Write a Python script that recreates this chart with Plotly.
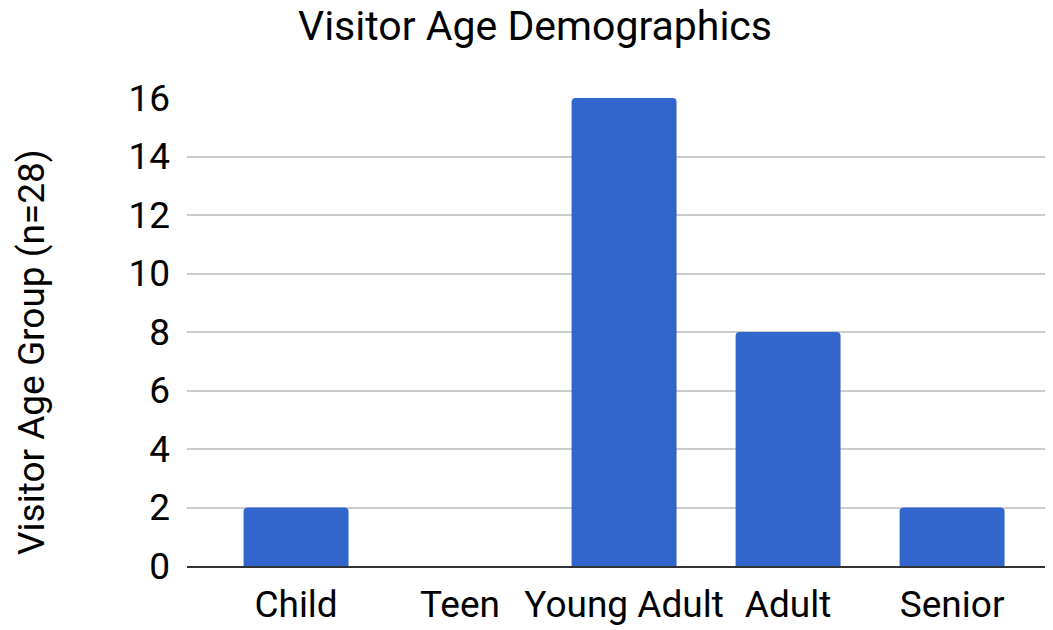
import plotly.graph_objects as go

categories = ["Child", "Teen", "Young Adult", "Adult", "Senior"]
counts = [2, 0, 16, 8, 2]
y_ticks = [0, 2, 4, 6, 8, 10, 12, 14, 16]

fig = go.Figure(
    go.Bar(
        x=categories,
        y=counts,
        marker=dict(color="#3366CC", line=dict(width=0)),
        width=0.64,
    )
)

fig.update_layout(
    width=1053,
    height=630,
    paper_bgcolor="white",
    plot_bgcolor="white",
    font=dict(family="Roboto", color="#000000", size=36),
    title=dict(
        text="Visitor Age Demographics",
        x=0.5005, xanchor="center",
        y=0.995, yanchor="top",
        font=dict(size=41, family="Roboto", color="#000000"),
    ),
    margin=dict(l=179, r=0, t=90, b=72),
    barcornerradius=4,
    showlegend=False,
    xaxis=dict(
        type="category",
        range=[-0.665, 4.664],
        showgrid=False,
        showline=True,
        linecolor="#333333",
        linewidth=2,
        ticks="",
        tickfont=dict(size=37),
        ticklabelstandoff=5,
        zeroline=False,
        automargin=False,
    ),
    yaxis=dict(
        range=[0, 16],
        tickvals=y_ticks,
        showgrid=True,
        gridcolor="#cccccc",
        gridwidth=2,
        zeroline=False,
        showline=False,
        ticks="",
        tickfont=dict(size=37),
        ticklabelstandoff=16,
        automargin=False,
    ),
    annotations=[
        dict(
            text="Visitor Age Group (n=28)",
            textangle=-90,
            xref="paper", yref="paper",
            x=0, y=0.5,
            xanchor="center", yanchor="middle",
            xshift=-156, yshift=-20,
            showarrow=False,
            font=dict(size=37, family="Roboto", color="#000000"),
        )
    ],
)

fig.write_html("out.html")
